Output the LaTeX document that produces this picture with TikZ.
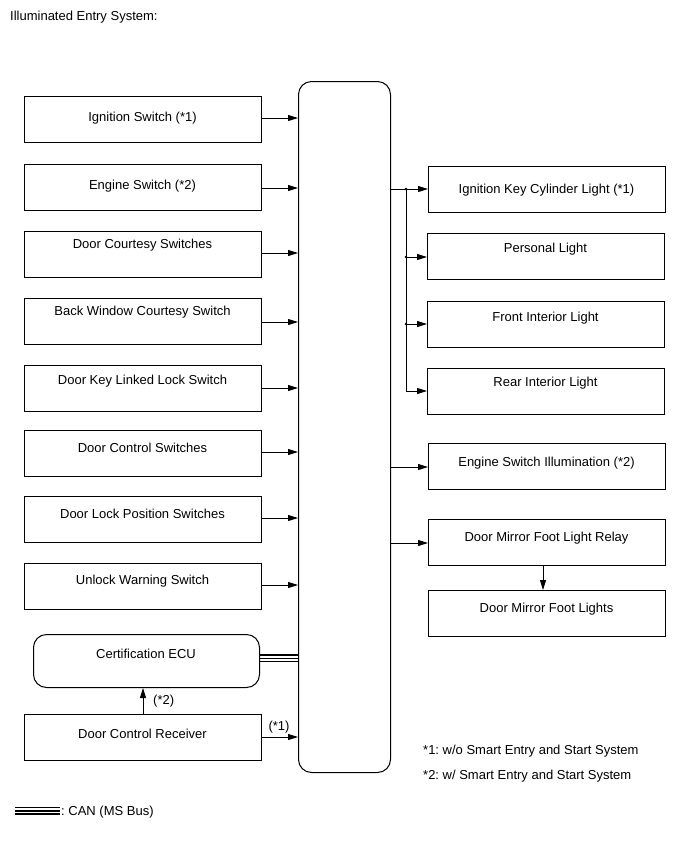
\documentclass[tikz,border=0pt]{standalone}
\usepackage{fontspec}
\setmainfont{Liberation Sans}
\usetikzlibrary{arrows.meta}
\frenchspacing
\begin{document}
\begin{tikzpicture}[x=1pt,y=-1pt,
  box/.style={draw,line width=1pt,inner sep=0pt,anchor=north west},
  lbox/.style={box,minimum width=237pt,minimum height=46pt},
  txt/.style={inner sep=0pt,text height=9.3pt,text depth=0pt,font=\fontsize{13}{15}\selectfont},
  arr/.style={line width=0.9pt,-{Triangle[length=10pt,width=6pt]}},
  can/.style={line width=1.6pt}]
\useasboundingbox (0,0) rectangle (691,855);
% title
\node[txt,anchor=west] (title) at (10,16) {Illuminated Entry System:};
% central ECU
\node[box,rounded corners=13pt,minimum width=92pt,minimum height=691pt] (ctr) at (298,81) {};
% left boxes
\node[lbox] (b1) at (24,96) {};  \node[txt] (t1) at (142.5,117) {Ignition Switch (*1)};
\node[lbox] (b2) at (24,164) {}; \node[txt] (t2) at (142.5,185) {Engine Switch (*2)};
\node[lbox] (b3) at (24,231) {}; \node[txt] (t3) at (142.5,244) {Door Courtesy Switches};
\node[lbox] (b4) at (24,298) {}; \node[txt] (t4) at (142.5,311) {Back Window Courtesy Switch};
\node[lbox] (b5) at (24,365) {}; \node[txt] (t5) at (142.5,380) {Door Key Linked Lock Switch};
\node[lbox] (b6) at (24,430) {}; \node[txt] (t6) at (142.5,448) {Door Control Switches};
\node[lbox] (b7) at (24,496) {}; \node[txt] (t7) at (142.5,514) {Door Lock Position Switches};
\node[lbox] (b8) at (24,563) {}; \node[txt] (t8) at (142.5,580) {Unlock Warning Switch};
\node[box,rounded corners=13pt,minimum width=226pt,minimum height=53pt] (ecu) at (33,634) {};
\node[txt] (tecu) at (146,654) {Certification ECU};
\node[lbox] (dcr) at (24,714) {}; \node[txt] (tdcr) at (142.5,734) {Door Control Receiver};
% left arrows
\foreach \b/\y in {b1/118,b2/188,b3/253,b4/322,b5/388,b6/452,b7/518,b8/585}
  \draw[arr] (\b.east |- 0,\y) -- (ctr.west |- 0,\y);
\draw[arr] (dcr.east |- 0,737) -- (ctr.west |- 0,737);
\node[txt,anchor=center] (n1) at (279,726) {(*1)};
\draw[arr] (dcr.north -| 143,0) -- (ecu.south -| 143,0);
\node[txt,anchor=west] (n2) at (153,700) {(*2)};
% CAN
\foreach \y in {655,658.3,661.6}
  \draw[can] (ecu.east |- 0,\y) -- (ctr.west |- 0,\y);
% right boxes
\node[lbox] (r1) at (428,166) {}; \node[txt] (s1) at (546.5,189) {Ignition Key Cylinder Light (*1)};
\node[lbox] (r2) at (427,233) {}; \node[txt] (s2) at (545.5,248) {Personal Light};
\node[lbox] (r3) at (427,301) {}; \node[txt] (s3) at (545.5,317) {Front Interior Light};
\node[lbox] (r4) at (427,368) {}; \node[txt] (s4) at (545.5,382) {Rear Interior Light};
\node[lbox] (r5) at (428,443) {}; \node[txt] (s5) at (546.5,462) {Engine Switch Illumination (*2)};
\node[lbox] (r6) at (428,519) {}; \node[txt] (s6) at (546.5,537) {Door Mirror Foot Light Relay};
\node[lbox] (r7) at (428,590) {}; \node[txt] (s7) at (546.5,608) {Door Mirror Foot Lights};
% right connectors
\coordinate (j1) at (406,189);
\coordinate (j2) at (406,257);
\coordinate (j3) at (406,324);
\coordinate (j4) at (406,391);
\draw[line width=0.9pt] (ctr.east |- j1) -- (j1) -- (j4);
\draw[arr] (j1) -- (r1.west |- j1);
\draw[arr] (j2) -- (r2.west |- j2);
\draw[arr] (j3) -- (r3.west |- j3);
\draw[arr] (j4) -- (r4.west |- j4);
\foreach \j in {j1,j2,j3} \fill (\j) circle (1.4pt);
\draw[arr] (ctr.east |- 0,467) -- (r5.west |- 0,467);
\draw[arr] (ctr.east |- 0,543) -- (r6.west |- 0,543);
\draw[arr] (r6.south -| 543,0) -- (r7.north -| 543,0);
% footnotes
\node[txt,anchor=west] (f1) at (423,750) {*1: w/o Smart Entry and Start System};
\node[txt,anchor=west] (f2) at (423,775) {*2: w/ Smart Entry and Start System};
% legend
\coordinate (la) at (15,807.5);
\coordinate (lb) at (60,807.5);
\foreach \d in {0,3.3,6.6}
  \draw[can] ([yshift=-\d pt]la) -- ([yshift=-\d pt]lb);
\node[txt,anchor=west] (leg) at (61,811) {: CAN (MS Bus)};
\end{tikzpicture}
\end{document}
